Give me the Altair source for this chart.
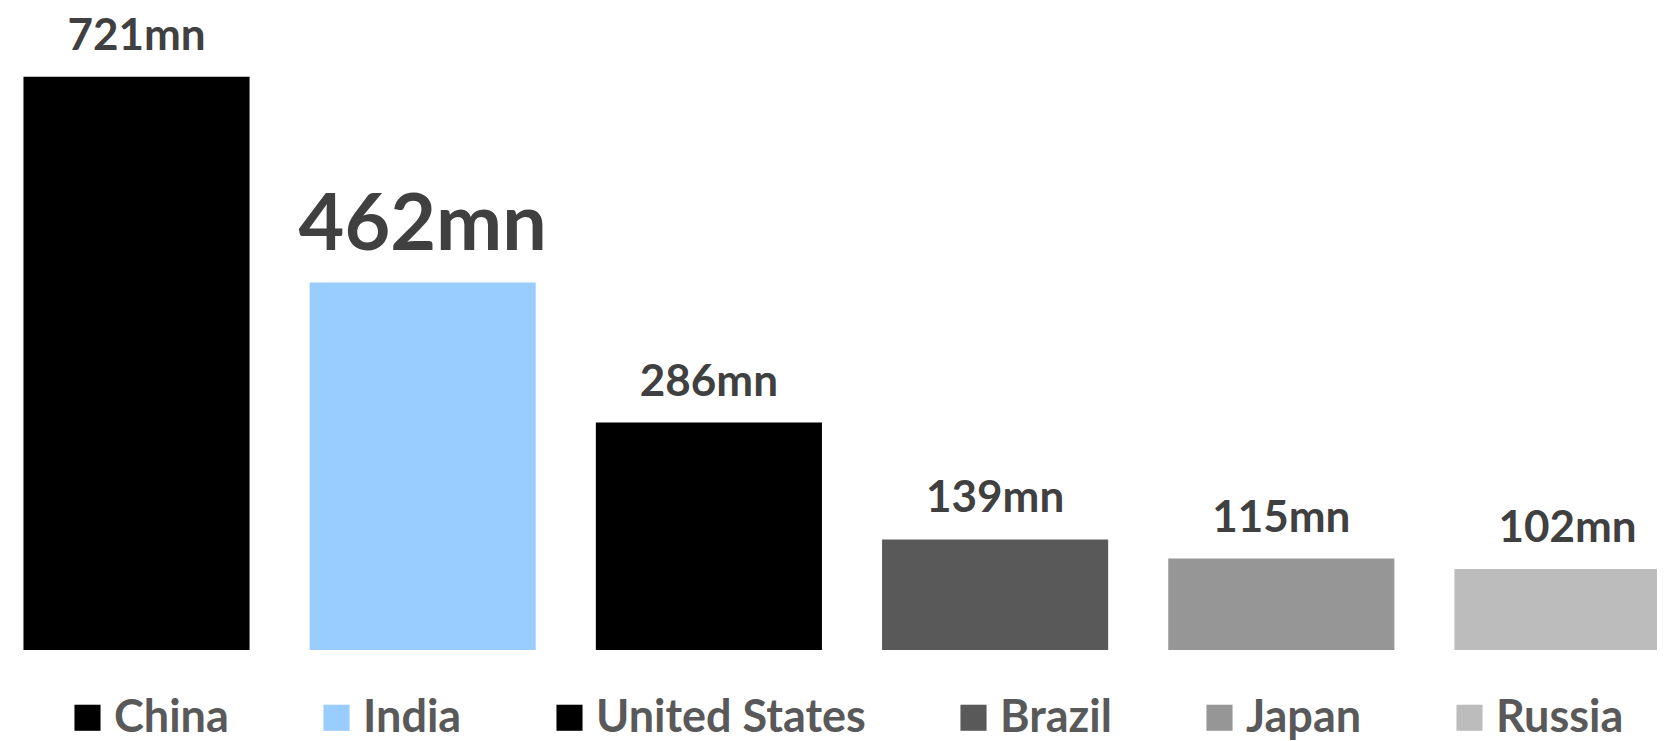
import altair as alt
import pandas as pd

countries = ["China", "India", "United States", "Brazil", "Japan", "Russia"]
values = [721, 462, 286, 139, 115, 102]
colors = ["#000000", "#99CCFF", "#000000", "#595959", "#969696", "#BCBCBC"]

df = pd.DataFrame({"country": countries, "value": values})

FONT = "Lato"

x = alt.X("country:N", sort=countries, axis=None,
          scale=alt.Scale(range=[0, 1688], paddingInner=0.21, paddingOuter=0.054))
y = alt.Y("value:Q", axis=None, scale=alt.Scale(domain=[0, 807.3], nice=False, zero=True))

bars = alt.Chart(df).mark_bar(clip=True).encode(
    x=x,
    y=y,
    color=alt.Color(
        "country:N",
        sort=countries,
        scale=alt.Scale(domain=countries, range=colors),
        legend=alt.Legend(
            title=None,
            orient="none",
            direction="horizontal",
            legendX=57,
            legendY=687,
            padding=0,
            symbolType="square",
            symbolSize=680,
            symbolStrokeWidth=0,
            labelFont=FONT,
            labelFontSize=45,
            labelFontWeight="bold",
            labelColor="#595959",
            labelOffset=4,
            labelLimit=500,
            columnPadding=85,
        ),
    ),
)

base_text = alt.Chart(df).transform_calculate(
    label="format(datum.value, 'd') + 'mn'"
)

labels_small = base_text.transform_filter(alt.datum.country != "India").mark_text(
    font=FONT, fontWeight="bold", fontSize=44, color="#404040",
    baseline="alphabetic", align="center", dy=-27,
).encode(x=x, y=y, text="label:N")

labels_big = base_text.transform_filter(alt.datum.country == "India").mark_text(
    font=FONT, fontWeight="bold", fontSize=79, color="#404040",
    baseline="alphabetic", align="center", dy=-33,
).encode(x=x, y=y, text="label:N")

chart = alt.layer(bars, labels_small, labels_big).properties(
    width=1649,
    height=642,
    autosize=alt.AutoSizeParams(type="none"),
    padding={"left": 0, "top": 0, "right": 0, "bottom": 100},
).configure_view(stroke=None)

chart.save("out.html", embed_options={"renderer": "svg", "actions": False})
